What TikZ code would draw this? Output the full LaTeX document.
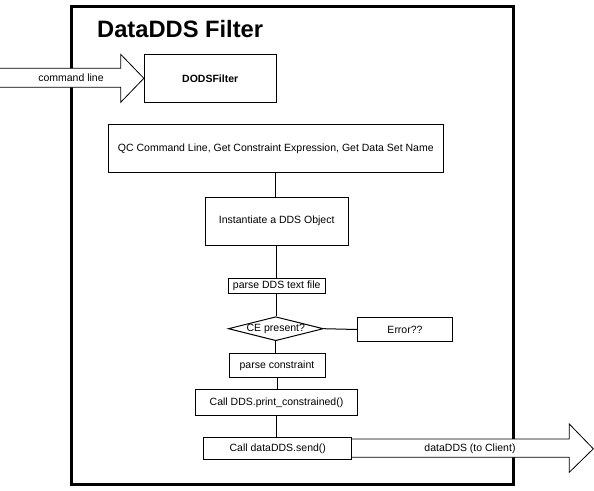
\documentclass[tikz,border=0pt]{standalone}
\usepackage{fontspec}
\setmainfont{Liberation Sans}
\usetikzlibrary{shapes.geometric}
\tikzset{
  every node/.style={font=\fontsize{10.5}{12}\selectfont},
  procbox/.style={draw, line width=1pt, fill=white, inner sep=0pt, anchor=center},
  conn/.style={draw, line width=1pt},
  bigarrow/.style={draw, line width=0.8pt, fill=white, line join=miter},
  frameline/.style={draw, line width=3pt, line join=miter}
}
\begin{document}
\begin{tikzpicture}[x=1pt,y=-1pt]
\useasboundingbox (0,0) rectangle (594,490);
% frame
\draw[frameline] (71.5,484) -- (71.5,6) -- (513.5,6) -- (513.5,484) -- cycle;
% boxes
\node[procbox, minimum width=131.7, minimum height=48, font=\fontsize{10.5}{12}\selectfont\bfseries] (dods) at (210.2,78.3) {DODSFilter};
\node[procbox, minimum width=335, minimum height=47.7] (qc) at (275.8,148.8) {QC Command Line, Get Constraint Expression, Get Data Set Name};
\node[procbox, minimum width=143.3, minimum height=47.7] (inst) at (276.7,221.2) {Instantiate a DDS Object};
\node[procbox, minimum width=96.7, minimum height=15] (pdds) at (276.7,285.8) {parse DDS text file};
\node[diamond, draw, line width=1pt, minimum width=95, minimum height=24, inner sep=0pt] (ce) at (275.8,328.7) {};
\node (cetext) at (ce.center) {CE present?};
\node[procbox, minimum width=95.4, minimum height=24.4] (err) at (405,329.5) {Error??};
\node[procbox, minimum width=96, minimum height=24] (pcon) at (277,365.3) {parse constraint};
\node[procbox, minimum width=161.6, minimum height=26.4] (pcs) at (276.5,402.5) {Call DDS.print\_constrained()};
\node[procbox, minimum width=147.7, minimum height=22.3] (send) at (277.8,448.8) {Call dataDDS.send()};
% connectors
\draw[conn] (qc.south) -- (qc.south |- inst.north);
\draw[conn] (inst.south) -- (inst.south |- pdds.north);
\draw[conn] (pdds.south) -- (pdds.south |- ce.north);
\draw[conn] (ce.east) -- (err.west);
\draw[conn] (ce.south) -- (ce.south |- pcon.north);
\draw[conn] (pcon.south) -- (pcon.south |- pcs.north);
\draw[conn] (pcs.south) -- (pcs.south |- send.north);
% input arrow
\coordinate (cltip) at (dods.west);
\draw[bigarrow] (-1,68.3) -- (120.7,68.3) -- (120.7,54.3) -- (cltip) -- (120.7,102.3) -- (120.7,87.3) -- (-1,87.3);
\node (cltext) at (71,77.8) {command line};
% output arrow
\coordinate (outtip) at (593.3,448.8);
\draw[bigarrow] (send.east |- 0,439) -- (569.3,439) -- (569.3,424) -- (outtip) -- (569.3,472.3) -- (569.3,457.3) -- (send.east |- 0,457.3);
\node (outtext) at (470,448.3) {dataDDS (to Client)};
% title
\node[anchor=base west, inner sep=0pt, font=\fontsize{23.7}{28}\selectfont\bfseries] (title) at (97,37) {DataDDS Filter};
\end{tikzpicture}
\end{document}
